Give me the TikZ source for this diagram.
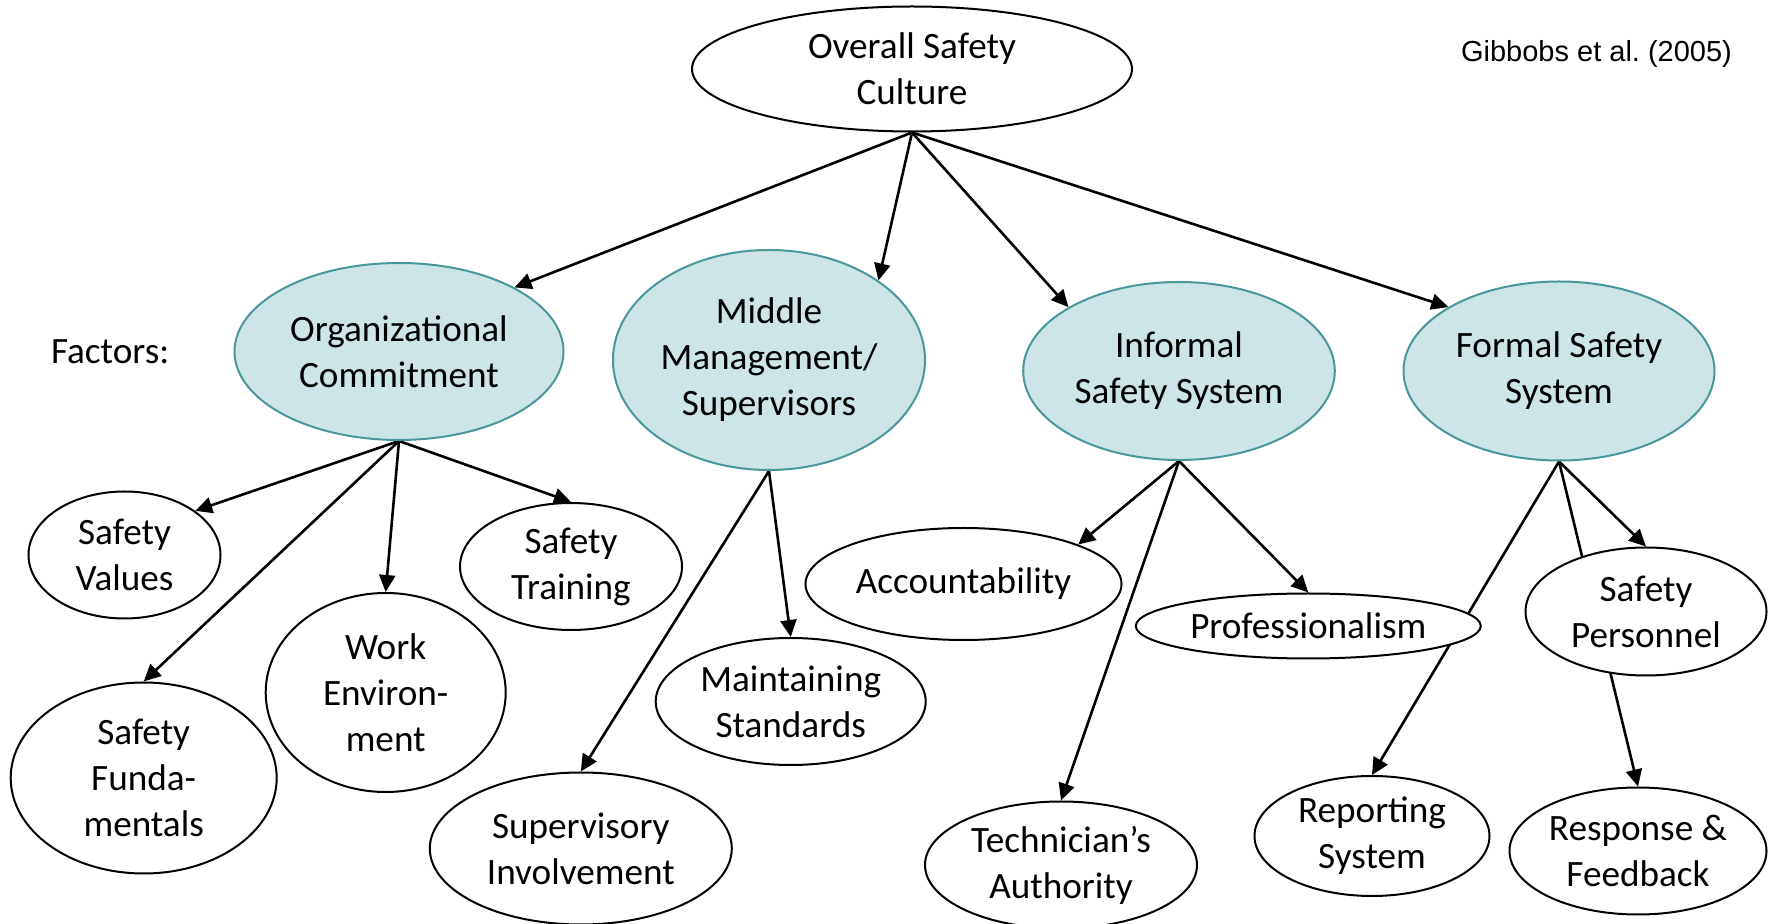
\documentclass[tikz,border=0pt]{standalone}
\usepackage{fontspec}
\setmainfont{Carlito}
\newfontfamily\arialfont{Liberation Sans}
\usetikzlibrary{shapes.geometric,arrows.meta,backgrounds}
\definecolor{factorfill}{RGB}{205,229,231}
\definecolor{factorline}{RGB}{74,151,155}
\tikzset{
  bubble/.style={ellipse,draw=black,line width=1pt,fill=white,inner sep=0pt,
    align=center,font=\fontsize{18.6}{23}\selectfont},
  factor/.style={bubble,draw=factorline,fill=factorfill},
  link/.style={-{Triangle[length=8.5pt,width=8pt]},line width=1.3pt}
}

\begin{document}
\begin{tikzpicture}[x=0.5pt,y=-0.5pt]
    \useasboundingbox (0,0) rectangle (1769,924);
    % top
    \node[bubble,minimum width=220pt,minimum height=62.5pt] (overall) at (912,69) {Overall Safety\\Culture};
    \node[font=\arialfont\fontsize{14.5}{17}\selectfont,anchor=base east] (source) at (1739,62) {Gibbobs et al.\ (2005)};
    \node[font=\fontsize{18.6}{23}\selectfont,anchor=west] (factors) at (44,352) {Factors:};
    % factors
    \node[factor,minimum width=164.5pt,minimum height=88.5pt] (org) at (399,351.5) {Organizational\\Commitment};
    \node[factor,minimum width=156pt,minimum height=110pt] (mid) at (769,360) {Middle\\Management/\\Supervisors};
    \node[factor,minimum width=155.8pt,minimum height=89pt] (inf) at (1179,371) {Informal\\Safety System};
    \node[factor,minimum width=155.5pt,minimum height=89.5pt] (form) at (1559,371) {Formal Safety\\System};
    % sub-factors
    \node[bubble,minimum width=96pt,minimum height=63.5pt] (values) at (124.5,555) {Safety\\Values};
    \node[bubble,minimum width=133pt,minimum height=95.5pt] (fund) at (143.7,778) {Safety\\Funda-\\mentals};
    \node[bubble,minimum width=120pt,minimum height=99.5pt] (work) at (385.7,692.5) {Work\\Environ-\\ment};
    \node[bubble,minimum width=111pt,minimum height=63.5pt] (train) at (571,566.5) {Safety\\Training};
    \node[bubble,minimum width=135pt,minimum height=63.5pt] (stand) at (790.7,701.5) {Maintaining\\Standards};
    \node[bubble,minimum width=151pt,minimum height=76pt] (superv) at (580.8,848.5) {Supervisory\\Involvement};
    \node[bubble,minimum width=158pt,minimum height=56pt] (account) at (963.5,584) {Accountability};
    \node[bubble,minimum width=172.5pt,minimum height=32.5pt] (prof) at (1308.3,626) {Professionalism};
    \node[bubble,minimum width=136pt,minimum height=63.5pt] (tech) at (1061,865) {Technician’s\\Authority};
    \node[bubble,minimum width=117.5pt,minimum height=60pt] (report) at (1372,836) {Reporting\\System};
    \node[bubble,minimum width=120.5pt,minimum height=64pt] (staff) at (1646,611.5) {Safety\\Personnel};
    \node[bubble,minimum width=128.5pt,minimum height=63.5pt] (resp) at (1638,851) {Response \&\\Feedback};
    % connectors
    \begin{scope}[on background layer]
        \draw[link] (overall.south) -- (org.29);
        \draw[link] (overall.south) -- (mid.36);
        \draw[link] (overall.south) -- (inf.150);
        \draw[link] (overall.south) -- (form.150);
        \draw[link] (org.south) -- (values.32);
        \draw[link] (org.south) -- (fund.north);
        \draw[link] (org.south) -- (work.north);
        \draw[link] (org.south) -- (train.north);
        \draw[link] (mid.south) -- (superv.north);
        \draw[link] (mid.south) -- (stand.north);
        \draw[link] (inf.south) -- (account.19);
        \draw[link] (inf.south) -- (prof.north);
        \draw[link] (inf.south) -- (tech.north);
        \draw[link] (form.south) -- (report.north);
        \draw[link] (form.south) -- (staff.north);
        \draw[link] (form.south) -- (resp.north);
    \end{scope}
\end{tikzpicture}
\end{document}
